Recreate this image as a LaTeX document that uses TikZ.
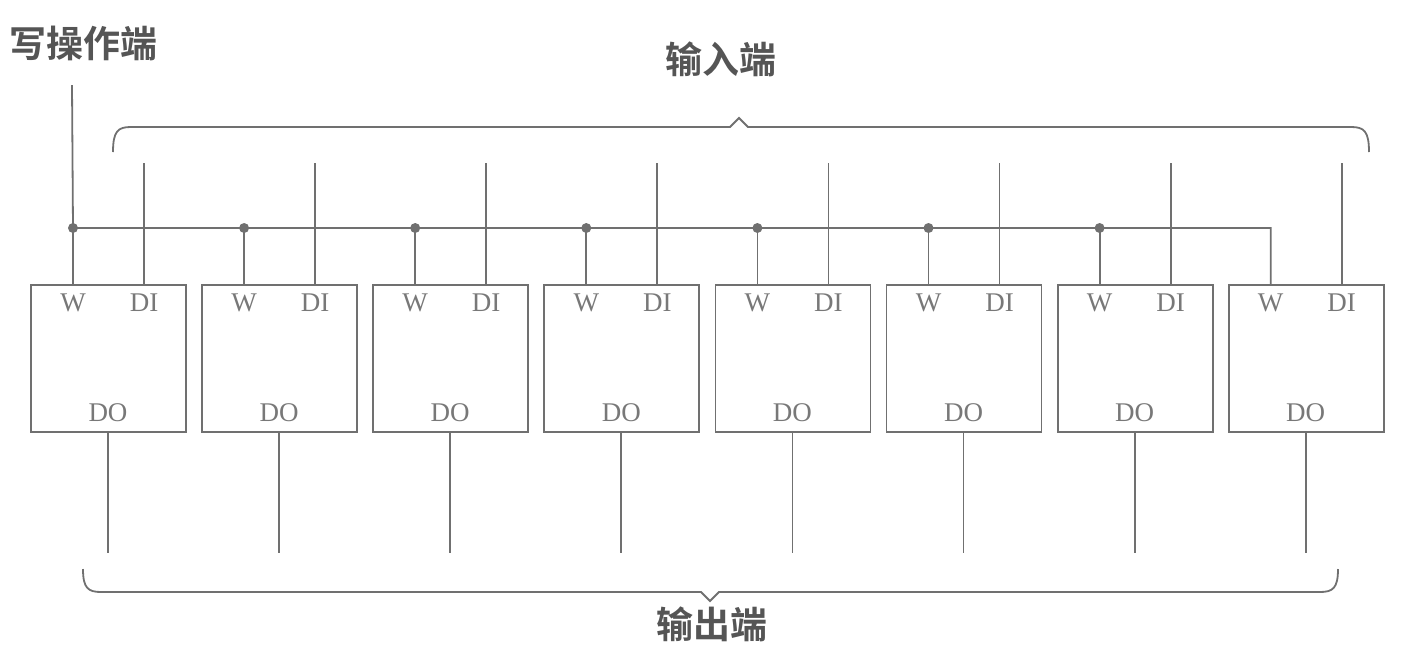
\documentclass[tikz,border=0pt]{standalone}
\usepackage{fontspec}
\setmainfont{Liberation Serif}
\newfontfamily\cjkb{Noto Sans CJK SC Bold}
\usetikzlibrary{calc}
\definecolor{wire}{RGB}{112,112,112}
\definecolor{lbl}{RGB}{85,85,85}
\definecolor{portc}{RGB}{120,120,120}
\begin{document}
\begin{tikzpicture}[x=0.5pt,y=-0.5pt,
  wire/.style={draw=wire,line width=0.9pt},
  cell/.style={draw=wire,line width=0.9pt,rectangle,minimum width=77.5pt,minimum height=73.5pt,inner sep=0pt,outer sep=0pt},
  port/.style={text=portc,font=\fontsize{13.5}{14}\selectfont,inner sep=0pt},
  title/.style={text=lbl,font=\cjkb\fontsize{18.5}{20}\selectfont,inner sep=0pt},
  joint/.style={circle,fill=wire,inner sep=0pt,minimum size=5pt}]
\useasboundingbox (0,0) rectangle (1409,660);

% memory cells with their W, DI and DO ports
\foreach \i in {0,...,7} {
  \pgfmathsetmacro\L{31+171.1*\i}
  \node[cell] (b\i) at (\L+77.5,358.5) {};
  \node[port] (w\i) at (\L+42,303) {W};
  \node[port] (di\i) at (\L+113,303) {DI};
  \node[port] (do\i) at (\L+77,413) {DO};
  \coordinate (in\i) at (\L+113,163);
  \coordinate (out\i) at (\L+77,553);
  \coordinate (j\i) at (\L+42,228);
  % data input and output lines
  \draw[wire] (in\i) -- (in\i |- b\i.north);
  \draw[wire] (b\i.south -| out\i) -- (out\i);
}

% common write-enable bus
\coordinate (wtop) at (72,85);
\draw[wire] (wtop) -- (j0) -- (j7) -- (j7 |- b7.north);
\foreach \i in {0,...,6} {
  \draw[wire] (j\i) -- (j\i |- b\i.north);
  \node[joint] at (j\i) {};
}

% braces
\draw[wire] (113,152) .. controls (113,131) and (118,127) .. (131,127)
  -- (730,127) -- (739,118) -- (748,127) -- (1351,127)
  .. controls (1364,127) and (1369,131) .. (1369,152);
\draw[wire] (83,569) .. controls (83,588) and (88,592) .. (101,592)
  -- (701,592) -- (710,601) -- (719,592) -- (1320,592)
  .. controls (1333,592) and (1338,588) .. (1338,569);

% labels
\node[title] (wlab) at (84,43) {写操作端};
\node[title] (inlab) at (721,59) {输入端};
\node[title] (outlab) at (712,624) {输出端};
\end{tikzpicture}
\end{document}
